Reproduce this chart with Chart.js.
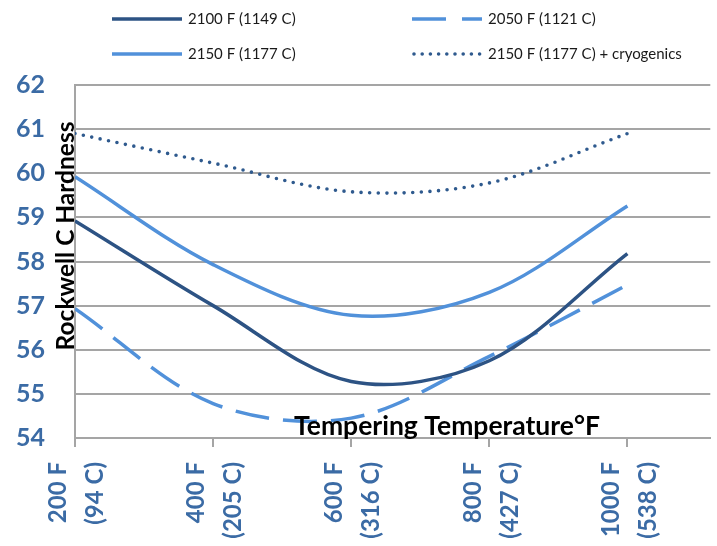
<!DOCTYPE html>
<html>
<head>
<meta charset="utf-8">
<script src="https://cdn.jsdelivr.net/npm/chart.js@4.4.1/dist/chart.umd.min.js"></script>
<style>
  html, body { margin: 0; padding: 0; background: #ffffff; }
  #wrap { width: 717px; height: 546px; position: relative; }
</style>
</head>
<body>
<div id="wrap"><canvas id="c" width="717" height="546"></canvas></div>
<script>
// ---- data ----
const categories = [200, 400, 600, 800, 1000];
const tickLabelsF = ['200 F', '400 F', '600 F', '800 F', '1000 F'];
const tickLabelsC = ['(94 C)', '(205 C)', '(316 C)', '(427 C)', '(538 C)'];
const seriesNames = ['2100 F (1149 C)', '2050 F (1121 C)', '2150 F (1177 C)', '2150 F (1177 C) + cryogenics'];
const hardness2100 = [58.92, 57.0, 55.28, 55.75, 58.18];
const hardness2050 = [56.93, 54.78, 54.45, 55.85, 57.47];
const hardness2150 = [59.92, 57.93, 56.78, 57.3, 59.26];
const hardnessCryo = [60.9, 60.23, 59.58, 59.78, 60.9];
const yTitle = 'Rockwell C Hardness';
const xTitle = 'Tempering Temperature°F';

const DARK = '#2d5384';
const LIGHT = '#5191da';
const DOT = '#2f5a8e';
const TICKCOL = '#3b6ba5';
const GRID = '#a5a5a5';
const FONT = 'Lato, "Open Sans", sans-serif';

function pts(vals) { return categories.map((x, i) => ({ x: x, y: vals[i] })); }

const datasets = [
  { label: seriesNames[0], data: pts(hardness2100), borderColor: DARK, borderWidth: 3.5, borderDash: [] },
  { label: seriesNames[1], data: pts(hardness2050), borderColor: LIGHT, borderWidth: 3.5, borderDash: [34, 14] },
  { label: seriesNames[2], data: pts(hardness2150), borderColor: LIGHT, borderWidth: 3.5, borderDash: [] },
  { label: seriesNames[3], data: pts(hardnessCryo), borderColor: DOT, borderWidth: 3.6, borderDash: [0, 8.6], borderCapStyle: 'round' }
].map(d => Object.assign({ tension: 0.33, pointRadius: 0, fill: false, borderCapStyle: d.borderCapStyle || 'butt' }, d));

const overlay = {
  id: 'overlay',
  afterDraw(chart) {
    const ctx = chart.ctx;
    ctx.save();
    // y title (inside plot, rotated)
    ctx.fillStyle = '#000000';
    ctx.font = 'bold 24.5px ' + FONT;
    ctx.textAlign = 'center';
    ctx.textBaseline = 'middle';
    ctx.translate(66, 236);
    ctx.rotate(-Math.PI / 2);
    ctx.fillText(yTitle, 0, 0);
    ctx.restore();

    ctx.save();
    ctx.fillStyle = '#000000';
    ctx.font = 'bold 26.5px ' + FONT;
    ctx.textAlign = 'center';
    ctx.textBaseline = 'alphabetic';
    ctx.fillText(xTitle, 447, 435);
    ctx.restore();

    // legend (2 x 2)
    const cols = [112, 412];
    const rows = [19, 54];
    ctx.save();
    ctx.font = '15px ' + FONT;
    ctx.textBaseline = 'middle';
    ctx.textAlign = 'left';
    chart.data.datasets.forEach((ds, i) => {
      const cx = cols[i % 2];
      const cy = rows[Math.floor(i / 2)];
      ctx.beginPath();
      ctx.strokeStyle = ds.borderColor;
      ctx.lineWidth = ds.borderWidth;
      ctx.lineCap = ds.borderCapStyle;
      ctx.setLineDash(i === 3 ? [0, 8.2] : (i === 1 ? [34, 16] : []));
      ctx.moveTo(cx + (i === 3 ? 2 : 0), cy);
      ctx.lineTo(cx + 70, cy);
      ctx.stroke();
      ctx.setLineDash([]);
      ctx.fillStyle = '#1a1a1a';
      ctx.fillText(ds.label, cx + 76, cy);
    });
    ctx.restore();
  }
};

new Chart(document.getElementById('c'), {
  type: 'line',
  data: { datasets: datasets },
  plugins: [overlay],
  options: {
    responsive: false,
    animation: false,
    layout: { padding: { top: 85, right: 5, left: 0, bottom: 0 } },
    plugins: { legend: { display: false }, tooltip: { enabled: false }, title: { display: false } },
    scales: {
      x: {
        type: 'linear',
        position: 'bottom',
        min: 200,
        max: 1120,
        afterBuildTicks: (s) => { s.ticks = categories.map(v => ({ value: v })); },
        afterFit: (s) => { s.height = 108; },
        ticks: {
          autoSkip: false,
          minRotation: 90,
          maxRotation: 90,
          padding: 15,
          labelOffset: -16.5,
          color: TICKCOL,
          font: { family: FONT, size: 24, weight: 'bold', lineHeight: 1.54 },
          callback: (v) => {
            const i = categories.indexOf(v);
            return i < 0 ? '' : [tickLabelsF[i], tickLabelsC[i]];
          }
        },
        grid: { drawOnChartArea: false, drawTicks: true, tickLength: 9, color: GRID, lineWidth: 2 },
        border: { display: true, color: GRID, width: 2 }
      },
      y: {
        min: 54,
        max: 62,
        afterFit: (s) => { s.width = 75; },
        ticks: {
          stepSize: 1,
          padding: 30,
          color: TICKCOL,
          font: { family: FONT, size: 25, weight: 'bold' }
        },
        grid: { color: GRID, lineWidth: 2, drawTicks: false },
        border: { display: true, color: GRID, width: 2 }
      }
    }
  }
});
</script>
</body>
</html>
